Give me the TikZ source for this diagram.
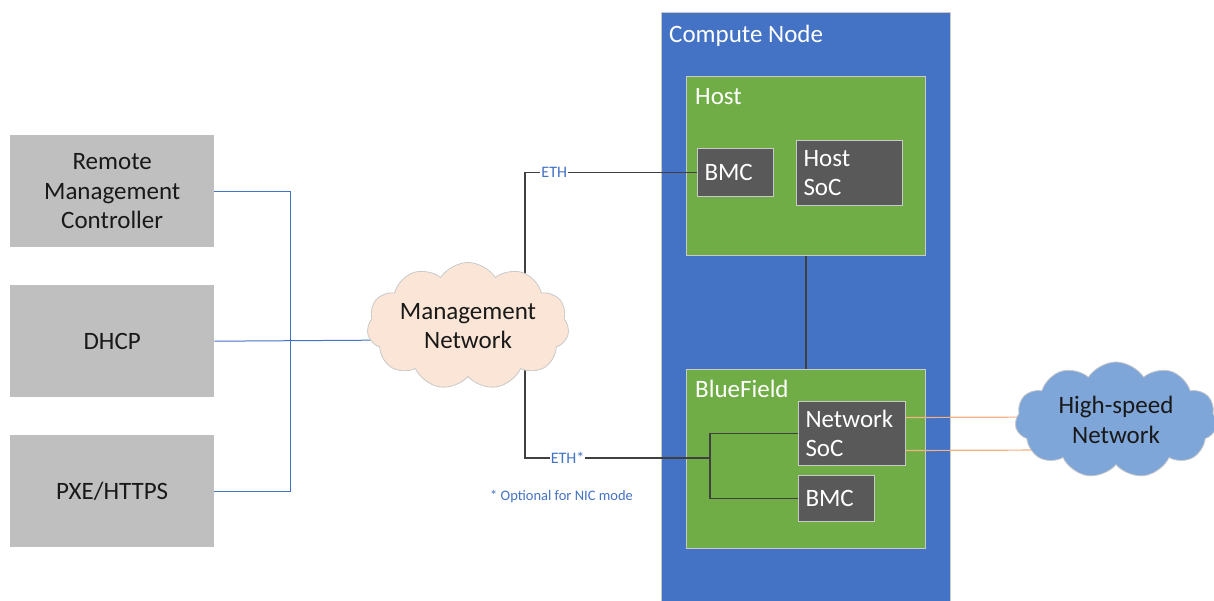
\documentclass[tikz,border=0pt]{standalone}
\usepackage{fontspec}
\setmainfont{Carlito}
\usetikzlibrary{shapes.symbols,calc}
\definecolor{cnblue}{HTML}{4472C4}
\definecolor{cngreen}{HTML}{70AD47}
\definecolor{cndark}{HTML}{595959}
\definecolor{cngray}{HTML}{BFBFBF}
\definecolor{cnedge}{HTML}{C9C9C9}
\definecolor{peach}{HTML}{FBE5D6}
\definecolor{skyc}{HTML}{7FA6D8}
\definecolor{lineblue}{HTML}{4472C4}
\definecolor{lineorange}{HTML}{F4B183}
\definecolor{linedark}{HTML}{404040}
\definecolor{txtblue}{HTML}{4472C4}
\begin{document}
\begin{tikzpicture}[x=1pt,y=-1pt,
  largefont/.style={font=\fontsize{25}{29.5}\selectfont},
  graybox/.style={fill=cngray,draw=none,anchor=north west,minimum width=204,minimum height=112,align=center,largefont,text=black!90},
  dkbox/.style={fill=cndark,draw=cnedge,line width=1pt,anchor=north west,align=left,text=white,largefont,inner xsep=7pt,inner ysep=0pt},
  greenbox/.style={fill=cngreen,draw=cnedge,line width=1pt,anchor=north west,minimum width=239,minimum height=179},
  title/.style={anchor=north west,text=white,largefont,inner sep=0pt},
  ethlabel/.style={fill=white,text=txtblue,font=\fontsize{16}{18}\selectfont,inner sep=1pt},
  bline/.style={lineblue,line width=1pt},
  kline/.style={linedark,line width=1.6pt},
  oline/.style={lineorange,line width=1.2pt},
  cloudnode/.style={cloud,cloud puffs=11,cloud puff arc=115,aspect=1.9,draw=cnedge,line width=0.8pt,align=center,largefont,text=black!90,inner sep=0pt}
]
\useasboundingbox (0,0) rectangle (1214,601);

% left boxes
\node[graybox] (rmc) at (10,135) {Remote\\Management\\Controller};
\node[graybox] (dhcp) at (10,285) {DHCP};
\node[graybox] (pxe) at (10,435) {PXE/HTTPS};

% compute node
\node[fill=cnblue,draw=cnedge,line width=1pt,anchor=north west,minimum width=289,minimum height=600] (cn) at (661,12) {};
\node[title] (cnt) at (669,25) {Compute Node};

\node[greenbox] (host) at (686,76) {};
\node[title] (hostt) at (695,88) {Host};
\node[dkbox,minimum width=76,minimum height=48,text width=62] (hbmc) at (697,148) {BMC};
\node[dkbox,minimum width=106,minimum height=65,text width=92] (hsoc) at (796,140) {Host\\SoC};

\node[greenbox] (bf) at (686,369) {};
\node[title] (bft) at (695,380) {BlueField};
\node[dkbox,minimum width=107,minimum height=64,text width=93] (nsoc) at (798,401) {Network\\SoC};
\node[dkbox,minimum width=76,minimum height=46,text width=62] (bbmc) at (798,475) {BMC};

\draw[kline] (host.south) -- (bf.north);

% internal bus
\coordinate (bj) at (710,458);
\draw[kline] (nsoc.west) -- (nsoc.west -| bj) -- (bbmc.west -| bj) -- (bbmc.west);

% management connections
\coordinate (mt) at (525,300);
\coordinate (mb) at (525,350);
\draw[kline] (mt) |- (hbmc.west) node[pos=0.585,ethlabel] (eth1) {ETH};
\draw[kline] (mb) |- (bj) node[pos=0.615,ethlabel] (eth2) {ETH*};

\coordinate (jn) at (290,340);
\draw[bline] (rmc.east) -| (jn);
\draw[bline] (pxe.east) -| (jn);
\draw[bline] (dhcp.east) -- (400,340);

% orange
\draw[oline] ([yshift=16pt]nsoc.east) -- (1050,417);
\draw[oline] ([yshift=-17pt]nsoc.east) -- (1050,450);

% clouds
\node[cloudnode,fill=peach,minimum width=202,minimum height=118] (mgmt) at (468,326) {Management\\Network};
\node[cloudnode,fill=skyc,minimum width=202,minimum height=116] (hsn) at (1116,420) {High-speed\\Network};

\node[anchor=west,text=txtblue,font=\fontsize{14.5}{16}\selectfont,inner sep=0pt] (note) at (490,497) {* Optional for NIC mode};
\end{tikzpicture}
\end{document}
